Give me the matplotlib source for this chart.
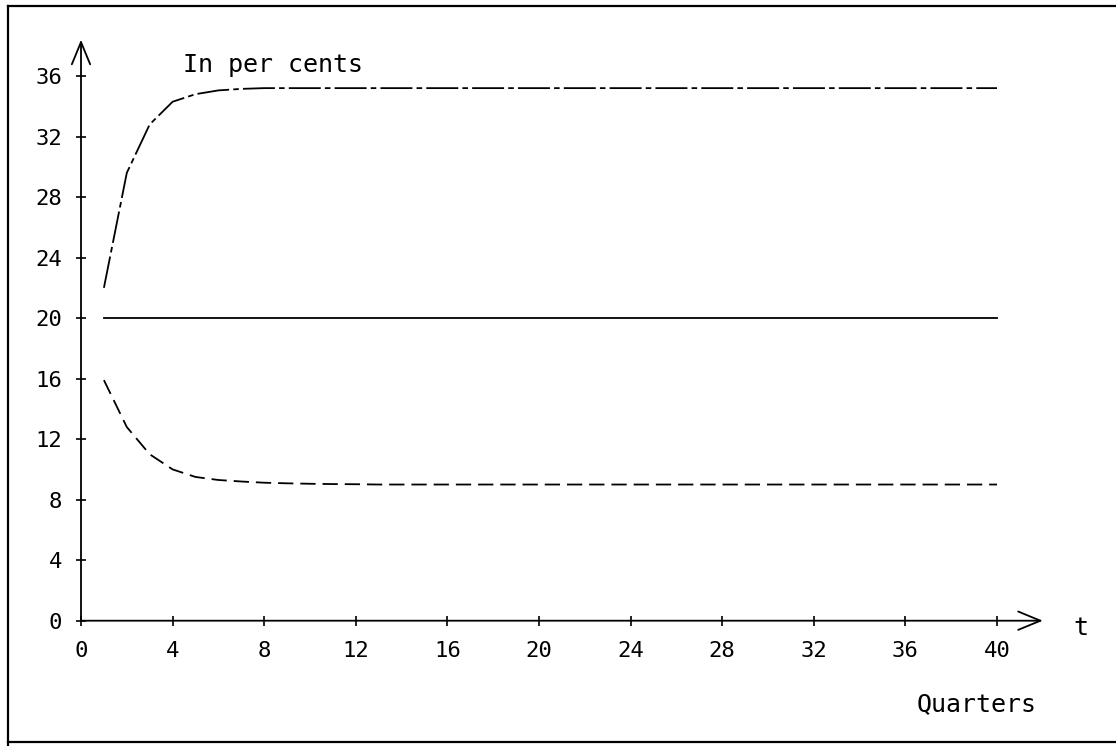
import matplotlib
matplotlib.use('agg')
import matplotlib.pyplot as plt
from matplotlib.lines import Line2D

# quarters and the three paths (in per cents)
quarters = list(range(1, 41))
upper = [22.0, 29.6, 32.8, 34.3, 34.8, 35.05, 35.15, 35.2, 35.2, 35.2,
         35.2, 35.2, 35.2, 35.2, 35.2, 35.2, 35.2, 35.2, 35.2, 35.2,
         35.2, 35.2, 35.2, 35.2, 35.2, 35.2, 35.2, 35.2, 35.2, 35.2,
         35.2, 35.2, 35.2, 35.2, 35.2, 35.2, 35.2, 35.2, 35.2, 35.2]
middle = [20.0] * 40
lower = [15.9, 12.8, 11.0, 10.0, 9.5, 9.3, 9.2, 9.12, 9.08, 9.05,
         9.03, 9.02, 9.0, 9.0, 9.0, 9.0, 9.0, 9.0, 9.0, 9.0,
         9.0, 9.0, 9.0, 9.0, 9.0, 9.0, 9.0, 9.0, 9.0, 9.0,
         9.0, 9.0, 9.0, 9.0, 9.0, 9.0, 9.0, 9.0, 9.0, 9.0]

xticks = list(range(0, 41, 4))
yticks = list(range(0, 37, 4))

plt.rcParams['font.family'] = ['DejaVu Sans Mono']
plt.rcParams['lines.scale_dashes'] = False

fig = plt.figure(figsize=(11.16, 7.46), dpi=100)
ax = fig.add_axes([81 / 1116, (746 - 620.7) / 746, 1 - 81 / 1116, 620.7 / 746])
ax.set_xlim(0, 1035 / 22.9)
ax.set_ylim(0, 620.7 / 15.13)
for s in ax.spines.values():
    s.set_visible(False)

ax.plot(quarters, upper, color='black', lw=1.3, linestyle=(0, (23, 3, 4, 3)))
ax.plot(quarters, middle, color='black', lw=1.3)
ax.plot(quarters, lower, color='black', lw=1.3, linestyle=(0, (11, 5)))

# axes with open arrow heads
arrow = dict(arrowstyle='->,head_length=0.8,head_width=0.33', lw=1.3,
             color='black', mutation_scale=20, shrinkA=0, shrinkB=0)
ax.annotate('', xy=(42.0, 0), xytext=(0, 0), arrowprops=arrow, annotation_clip=False)
ax.annotate('', xy=(0, 38.4), xytext=(0, 0), arrowprops=arrow, annotation_clip=False)

ax.set_xticks(xticks)
ax.set_yticks(yticks)
ax.tick_params(direction='inout', length=7, width=1.2, labelsize=16, colors='black')
ax.tick_params(axis='y', pad=10)
ax.tick_params(axis='x', pad=11)

ax.text(8.38, 36.7, 'In per cents', fontsize=18, va='center', ha='center')
ax.text(43.67, -0.5, 't', fontsize=18, va='center', ha='center', clip_on=False)
ax.text(39.1, -5.5, 'Quarters', fontsize=18, va='center', ha='center', clip_on=False)

# frame round the figure (no right edge)
fig.add_artist(Line2D([8 / 1116, 8 / 1116], [0, 1 - 6 / 746], color='black', lw=1.6))
fig.add_artist(Line2D([8 / 1116, 1], [1 - 6 / 746, 1 - 6 / 746], color='black', lw=1.6))
fig.add_artist(Line2D([8 / 1116, 1], [4 / 746, 4 / 746], color='black', lw=1.6))

fig.savefig('out.png', dpi=100)
plt.close()
